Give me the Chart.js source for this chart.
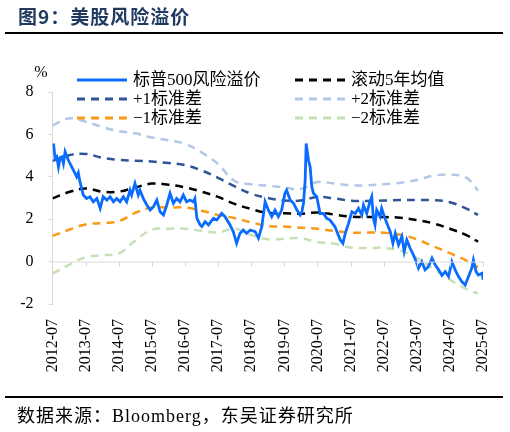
<!DOCTYPE html>
<html>
<head>
<meta charset="utf-8">
<script src="https://cdn.jsdelivr.net/npm/chart.js@4.4.0/dist/chart.umd.min.js"></script>
<style>
body { margin: 0; width: 510px; height: 432px; background: #fff; position: relative; overflow: hidden; }
#wrap { position: absolute; left: 0; top: 0; width: 510px; height: 432px; }
#title { position: absolute; left: 18px; top: 2px; font: bold 19px "Noto Sans CJK SC", sans-serif; letter-spacing: 1px; color: #203a60; z-index: 2; }
.rule { position: absolute; left: 5px; width: 498px; height: 2px; background: #000; z-index: 2; }
#src { position: absolute; left: 17px; top: 401px; font: 18px "Liberation Serif", "Noto Sans CJK SC", serif; letter-spacing: 1px; color: #000; z-index: 2; }
</style>
</head>
<body>
<div id="title">图9：美股风险溢价</div>
<div class="rule" style="top:32px"></div>
<div id="wrap"><canvas id="my-chart"></canvas></div>
<div class="rule" style="top:396px"></div>
<div id="src">数据来源：Bloomberg，东吴证券研究所</div>
<script>
// x values are decimal years (2012.5 = 2012-07)
let spDates = [2012.53, 2012.58, 2012.63, 2012.68, 2012.73, 2012.78, 2012.83, 2012.88, 2012.98,
    2013.08, 2013.18, 2013.23, 2013.28, 2013.33, 2013.43, 2013.53, 2013.63, 2013.73, 2013.84, 2013.94,
    2014.03, 2014.14, 2014.24, 2014.34, 2014.44, 2014.54, 2014.64, 2014.74, 2014.84, 2014.89, 2014.99,
    2015.09, 2015.14, 2015.24, 2015.35, 2015.45, 2015.55, 2015.65, 2015.75, 2015.85, 2015.95,
    2016.05, 2016.15, 2016.25, 2016.35, 2016.45, 2016.55, 2016.65, 2016.75, 2016.80, 2016.86, 2016.96,
    2017.01, 2017.11, 2017.21, 2017.36, 2017.46, 2017.61, 2017.71, 2017.86, 2017.96,
    2018.06, 2018.16, 2018.26, 2018.36, 2018.47, 2018.62, 2018.72, 2018.82, 2018.92,
    2019.02, 2019.12, 2019.22, 2019.32, 2019.42, 2019.52, 2019.57, 2019.68, 2019.78, 2019.88, 2019.98,
    2020.03, 2020.08, 2020.13, 2020.16, 2020.23, 2020.28, 2020.33, 2020.38, 2020.48, 2020.58, 2020.68, 2020.78,
    2020.88, 2021.03, 2021.19, 2021.27, 2021.34, 2021.44, 2021.54, 2021.64, 2021.74, 2021.84, 2021.89, 2021.99,
    2022.07, 2022.14, 2022.19, 2022.24, 2022.29, 2022.39, 2022.44, 2022.52, 2022.60, 2022.70, 2022.78, 2022.85, 2022.95,
    2023.05, 2023.12, 2023.20, 2023.30, 2023.40, 2023.48, 2023.55, 2023.65, 2023.75, 2023.85, 2023.96,
    2024.06, 2024.16, 2024.26, 2024.36, 2024.46, 2024.56, 2024.66, 2024.76, 2024.86, 2024.96,
    2025.06, 2025.16, 2025.21, 2025.29, 2025.36, 2025.47, 2025.51];

let spValues = [5.57, 4.85, 4.94, 4.47, 4.9, 4.94, 4.63, 5.18, 4.78,
    4.47, 4.16, 4.0, 4.19, 3.76, 3.14, 2.98, 3.06, 2.82, 2.98, 2.51,
    3.06, 2.9, 3.06, 2.82, 2.98, 2.82, 3.06, 2.82, 3.37, 3.14, 3.69,
    3.14, 3.37, 2.98, 2.67, 2.43, 2.59, 2.9, 2.35, 2.2, 2.67,
    3.22, 2.75, 2.98, 2.82, 3.14, 2.82, 2.9, 2.82, 2.98, 2.04, 1.73,
    1.65, 1.88, 1.73, 2.04, 1.96, 2.27, 2.12, 1.73, 1.41,
    0.86, 1.33, 1.49, 1.33, 1.49, 1.41, 1.1, 1.65, 2.82,
    2.43, 2.12, 2.43, 2.12, 2.43, 3.22, 3.37, 2.9, 2.75, 2.43, 2.2,
    2.35, 2.75, 3.84, 5.57, 4.78, 4.47, 3.53, 3.22, 3.06, 2.27, 2.27, 2.04,
    1.96, 1.65, 1.02, 0.86, 1.33, 1.8, 2.35, 2.27, 2.51, 2.2, 2.67, 2.27,
    2.75, 3.06, 2.04, 1.73, 2.43, 2.12, 2.51, 2.12, 1.8, 1.41, 0.86, 1.33, 0.79,
    1.18, 0.47, 1.02, 0.63, 0.31, 0.0, -0.31, 0.0, -0.39, -0.24, 0.16,
    -0.16, -0.39, -0.65, -0.47, -0.7, 0.0, -0.39, -0.71, -0.94, -1.1,
    -0.71, -0.31, 0.08, -0.47, -0.63, -0.55, -0.86];

// rolling 5y mean and bands, read every half year
let bandDates = [2012.5, 2013, 2013.5, 2014, 2014.5, 2015, 2015.5, 2016, 2016.5, 2017, 2017.5, 2018, 2018.5,
    2019, 2019.5, 2020, 2020.5, 2021, 2021.5, 2022, 2022.5, 2023, 2023.5, 2024, 2024.5, 2025, 2025.35];
let meanValues = [2.98, 3.28, 3.45, 3.3, 3.3, 3.5, 3.68, 3.63, 3.5, 3.3, 3.05, 2.72, 2.48,
    2.3, 2.28, 2.26, 2.32, 2.22, 2.12, 2.1, 2.1, 2.07, 1.96, 1.8, 1.55, 1.25, 0.94];
let plus1Values = [4.75, 5.02, 5.08, 4.9, 4.8, 4.76, 4.72, 4.65, 4.55, 4.3, 3.95, 3.55, 3.2,
    3.0, 2.88, 2.88, 3.05, 2.98, 2.87, 2.86, 2.88, 2.9, 2.9, 2.9, 2.8, 2.5, 2.2];
let plus2Values = [6.43, 6.75, 6.6, 6.35, 6.15, 6.05, 5.85, 5.72, 5.55, 5.15, 4.6, 3.8, 3.65,
    3.58, 3.5, 3.42, 3.75, 3.68, 3.6, 3.6, 3.65, 3.72, 3.85, 4.05, 4.1, 3.95, 3.35];
let minus1Values = [1.21, 1.5, 1.75, 1.82, 1.9, 2.3, 2.55, 2.55, 2.55, 2.4, 2.2, 2.05, 1.85,
    1.68, 1.65, 1.6, 1.55, 1.45, 1.37, 1.37, 1.36, 1.27, 1.05, 0.72, 0.4, 0.05, -0.26];
let minus2Values = [-0.57, -0.15, 0.2, 0.3, 0.38, 1.0, 1.5, 1.55, 1.55, 1.45, 1.38, 1.55, 1.25,
    1.05, 1.08, 1.1, 0.92, 0.85, 0.66, 0.64, 0.64, 0.52, 0.18, -0.35, -0.85, -1.3, -1.5];

let tickYears = [2012.5, 2013.5, 2014.5, 2015.5, 2016.5, 2017.5, 2018.5, 2019.5, 2020.5, 2021.5, 2022.5, 2023.5, 2024.5, 2025.5];
let tickLabels = ['2012-07', '2013-07', '2014-07', '2015-07', '2016-07', '2017-07', '2018-07',
    '2019-07', '2020-07', '2021-07', '2022-07', '2023-07', '2024-07', '2025-07'];
let yTicks = [-2, 0, 2, 4, 6, 8];

let seriesNames = ['标普500风险溢价', '滚动5年均值', '+1标准差', '+2标准差', '−1标准差', '−2标准差'];

const serif = '"Liberation Serif", "Noto Sans CJK SC", serif';

function pts(xs, ys) {
    return xs.map((x, i) => ({ x: x, y: ys[i] }));
}

function band(i, values, color) {
    return {
        label: seriesNames[i],
        data: pts(bandDates, values),
        borderColor: color,
        borderWidth: 2.5,
        borderDash: [8, 6],
        pointRadius: 0,
        tension: 0.4,
        fill: false
    };
}

// zero line, year ticks on it, unit and the two column legend
const decor = {
    id: 'decor',
    afterDraw(chart) {
        const c = chart.ctx;
        const xs = chart.scales.x;
        const ys = chart.scales.y;
        const y0 = ys.getPixelForValue(0);
        c.save();
        c.strokeStyle = '#d9d9d9';
        c.lineWidth = 1;
        c.beginPath();
        c.moveTo(chart.chartArea.left, y0 + 0.5);
        c.lineTo(chart.chartArea.right + 1, y0 + 0.5);
        tickYears.forEach(t => {
            let px = Math.round(xs.getPixelForValue(t)) + 0.5;
            if (t > tickYears[0]) {
                c.moveTo(px, y0);
                c.lineTo(px, y0 + 5);
            }
        });
        c.stroke();

        c.fillStyle = '#000';
        c.font = '16px ' + serif;
        c.textAlign = 'center';
        c.textBaseline = 'middle';
        c.fillText('%', 41, 73);

        let slots = [[77, 80], [295, 80], [77, 99], [295, 99], [77, 118], [295, 118]];
        c.font = '17px ' + serif;
        c.textAlign = 'left';
        chart.data.datasets.forEach((ds, i) => {
            let s = slots[i];
            c.strokeStyle = ds.borderColor;
            c.lineWidth = 3;
            c.setLineDash(ds.borderDash || []);
            c.beginPath();
            c.moveTo(s[0], s[1]);
            c.lineTo(s[0] + 50, s[1]);
            c.stroke();
            c.setLineDash([]);
            c.fillText(ds.label, s[0] + 56, s[1] + 1);
        });
        c.restore();
    }
};

const ctx = document.getElementById('my-chart').getContext('2d');

let myChart = new Chart(ctx, {
    type: 'line',
    data: {
        datasets: [
            {
                label: seriesNames[0],
                data: pts(spDates, spValues),
                borderColor: '#0a6cff',
                borderWidth: 2.8,
                pointRadius: 0,
                tension: 0,
                fill: false
            },
            band(1, meanValues, '#000000'),
            band(2, plus1Values, '#2f5597'),
            band(3, plus2Values, '#b4c7e7'),
            band(4, minus1Values, '#f99a16'),
            band(5, minus2Values, '#c5e0b4')
        ]
    },
    options: {
        responsive: true,
        maintainAspectRatio: false,
        animation: false,
        layout: {
            padding: { top: 92, left: 14, right: 27, bottom: 48 }
        },
        plugins: {
            legend: { display: false },
            tooltip: { enabled: false }
        },
        scales: {
            x: {
                type: 'linear',
                min: 2012.5,
                max: 2025.5,
                afterBuildTicks: s => { s.ticks = tickYears.map(v => ({ value: v })); },
                afterFit: s => { s.height = 80; },
                border: { display: false },
                grid: { display: false },
                ticks: {
                    autoSkip: false,
                    minRotation: 90,
                    maxRotation: 90,
                    padding: 7,
                    color: '#000',
                    font: { family: serif, size: 16 },
                    callback: (v, i) => tickLabels[i]
                }
            },
            y: {
                min: -2,
                max: 8,
                afterBuildTicks: s => { s.ticks = yTicks.map(v => ({ value: v })); },
                afterFit: s => { s.width = 38.5; },
                border: { display: true, color: '#d9d9d9' },
                grid: { drawOnChartArea: false, color: '#d9d9d9', tickLength: 4 },
                ticks: {
                    padding: 15,
                    crossAlign: 'near',
                    color: '#000',
                    font: { family: serif, size: 16 }
                }
            }
        }
    },
    plugins: [decor]
});
</script>
</body>
</html>
